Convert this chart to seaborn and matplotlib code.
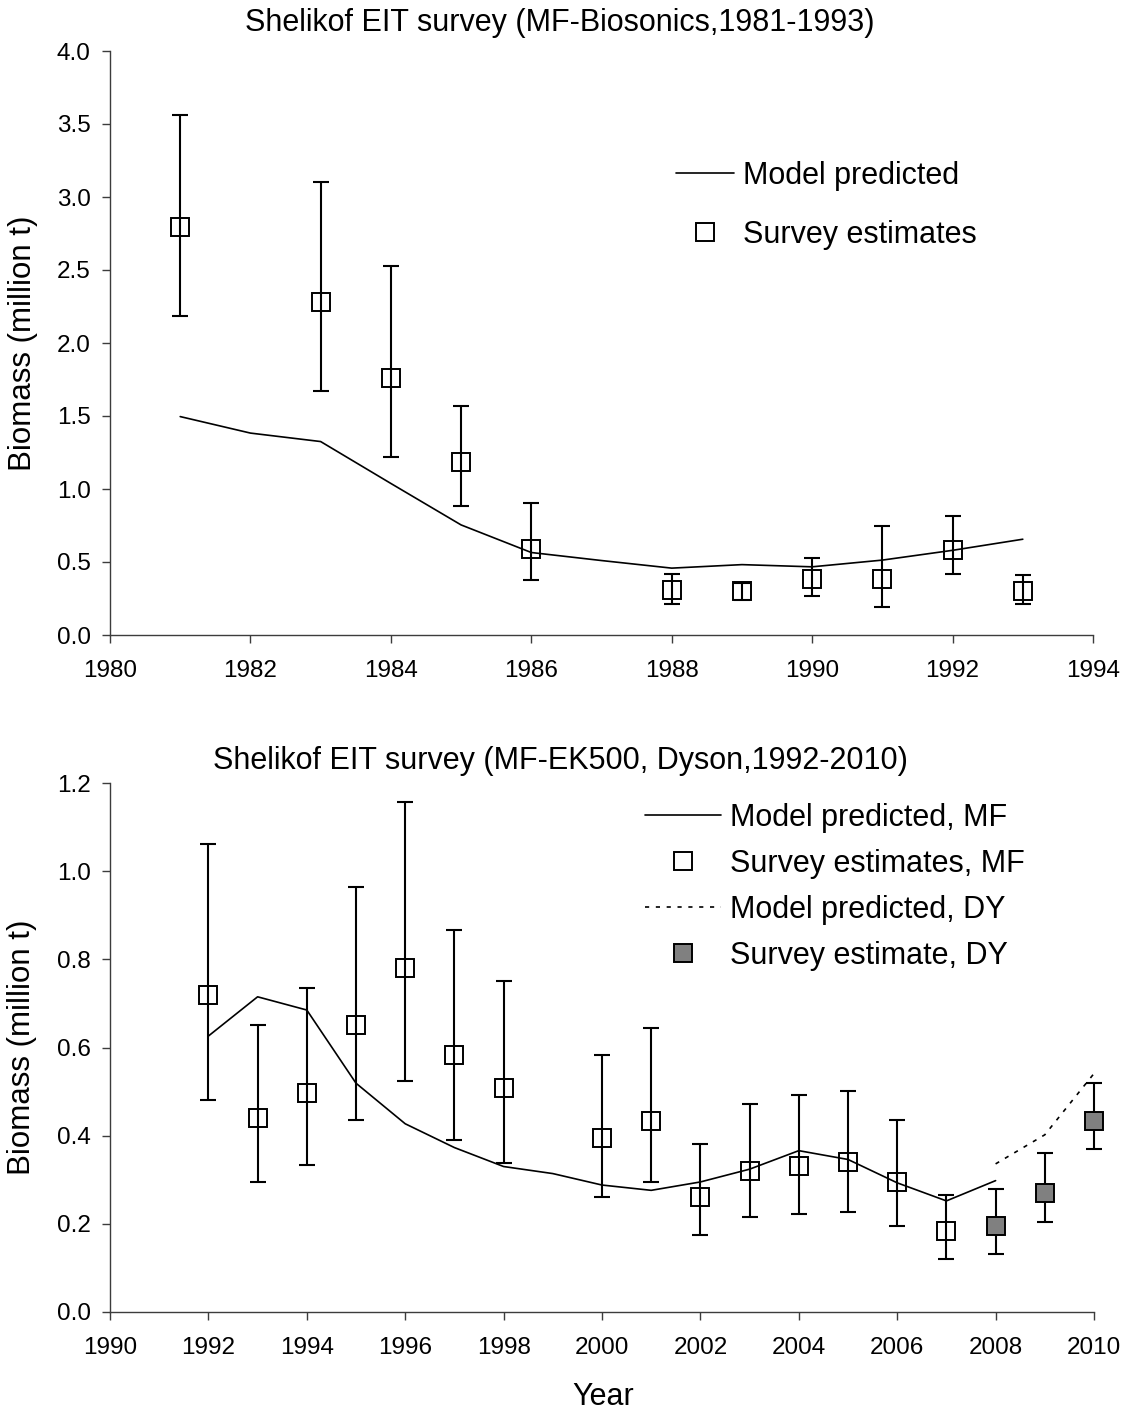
import matplotlib
matplotlib.use("Agg")
import matplotlib.pyplot as plt
from matplotlib.lines import Line2D
import seaborn as sns
import pandas as pd

# ---- Shelikof EIT survey, MF-Biosonics period (1981-1993) ----
bio_model_years = [1981, 1982, 1983, 1984, 1985, 1986, 1987, 1988, 1989, 1990, 1991, 1992, 1993]
bio_model_biomass = [1.496, 1.383, 1.325, 1.038, 0.754, 0.565, 0.510, 0.458, 0.482, 0.467, 0.513, 0.580, 0.656]

bio_survey_years = [1981, 1983, 1984, 1985, 1986, 1988, 1989, 1990, 1991, 1992, 1993]
bio_survey_biomass = [2.794, 2.284, 1.762, 1.185, 0.592, 0.311, 0.299, 0.382, 0.382, 0.580, 0.299]
bio_survey_lower = [2.183, 1.673, 1.221, 0.885, 0.376, 0.214, 0.240, 0.266, 0.189, 0.418, 0.214]
bio_survey_upper = [3.563, 3.105, 2.528, 1.566, 0.901, 0.421, 0.358, 0.525, 0.748, 0.815, 0.412]

# ---- Shelikof EIT survey, MF-EK500 and Dyson period (1992-2010) ----
mf_model_years = list(range(1992, 2009))
mf_model_biomass = [0.626, 0.715, 0.685, 0.519, 0.427, 0.373, 0.330, 0.314, 0.288,
                    0.276, 0.295, 0.324, 0.366, 0.346, 0.293, 0.252, 0.298]

mf_survey_years = [1992, 1993, 1994, 1995, 1996, 1997, 1998, 2000, 2001, 2002, 2003,
                   2004, 2005, 2006, 2007]
mf_survey_biomass = [0.718, 0.439, 0.496, 0.652, 0.780, 0.584, 0.509, 0.394, 0.434,
                     0.260, 0.319, 0.332, 0.340, 0.296, 0.184]
mf_survey_lower = [0.480, 0.295, 0.334, 0.435, 0.525, 0.391, 0.338, 0.262, 0.295,
                   0.174, 0.215, 0.222, 0.227, 0.196, 0.120]
mf_survey_upper = [1.062, 0.650, 0.734, 0.964, 1.156, 0.867, 0.750, 0.582, 0.645,
                   0.382, 0.471, 0.493, 0.502, 0.435, 0.266]

dy_model_years = [2008, 2009, 2010]
dy_model_biomass = [0.336, 0.402, 0.541]

dy_survey_years = [2008, 2009, 2010]
dy_survey_biomass = [0.194, 0.269, 0.433]
dy_survey_lower = [0.131, 0.205, 0.370]
dy_survey_upper = [0.280, 0.360, 0.520]

TITLE_TOP = "Shelikof EIT survey (MF-Biosonics,1981-1993)"
TITLE_BOTTOM = "Shelikof EIT survey (MF-EK500, Dyson,1992-2010)"
YLABEL = "Biomass (million t)"
XLABEL = "Year"

sns.set_theme(style="ticks")
plt.rcParams["font.family"] = ["Liberation Sans", "DejaVu Sans"]
plt.rcParams["text.color"] = "black"
plt.rcParams["axes.labelcolor"] = "black"

SPINE = "#3c3c3c"
GREY = "#808080"
MS = 13          # square marker size (pt)
EB_LW = 1.5
LINE_LW = 1.2
CAP = 5.5
BIG = 22

fig = plt.figure(figsize=(11.27, 14.14), dpi=100)
W, H = 1127, 1414


def px_axes(left, top, right, bottom):
    return fig.add_axes([left / W, 1 - bottom / H, (right - left) / W, (bottom - top) / H])


ax1 = px_axes(110, 51, 1093, 635)
ax2 = px_axes(110, 783, 1094, 1312)


def style_axes(ax):
    for side in ("top", "right"):
        ax.spines[side].set_visible(False)
    for side in ("left", "bottom"):
        ax.spines[side].set_color(SPINE)
        ax.spines[side].set_linewidth(1.0)
    ax.tick_params(axis="both", direction="out", length=5.8, width=1.0, color=SPINE,
                   labelsize=17.5, labelcolor="black")
    ax.tick_params(axis="x", pad=12)
    ax.tick_params(axis="y", pad=8)
    ax.grid(False)
    ax.set_facecolor("white")


def survey_errorbars(ax, years, est, lo, hi, face):
    yerr = [[e - l for e, l in zip(est, lo)], [h - e for e, h in zip(est, hi)]]
    ax.errorbar(years, est, yerr=yerr, fmt="none", ecolor="black",
                elinewidth=EB_LW, capsize=CAP, capthick=EB_LW, zorder=3, clip_on=False)
    ax.plot(years, est, linestyle="none", marker="s", markersize=MS,
            markerfacecolor=face, markeredgecolor="black", markeredgewidth=1.4,
            zorder=4, clip_on=False)


# ---------------- top panel ----------------
style_axes(ax1)
df_bio = pd.DataFrame({"year": bio_model_years, "biomass": bio_model_biomass})
sns.lineplot(data=df_bio, x="year", y="biomass", ax=ax1, color="black",
             linewidth=LINE_LW, estimator=None, zorder=2)
survey_errorbars(ax1, bio_survey_years, bio_survey_biomass, bio_survey_lower,
                 bio_survey_upper, "none")
ax1.set_xlim(1980, 1994)
ax1.set_ylim(0, 4.0)
ax1.set_xticks(range(1980, 1995, 2))
ax1.set_yticks([i * 0.5 for i in range(9)])
ax1.set_yticklabels([f"{i * 0.5:.1f}" for i in range(9)])
ax1.set_xlabel("")
ax1.set_ylabel(YLABEL, fontsize=22.5)
ax1.yaxis.set_label_coords(-0.073, 0.5)

h_line = Line2D([], [], color="black", linewidth=LINE_LW)
h_open = Line2D([], [], linestyle="none", marker="s", markersize=MS,
                markerfacecolor="none", markeredgecolor="black", markeredgewidth=1.4)
ax1.legend([h_line, h_open], ["Model predicted", "Survey estimates"],
           loc="upper left", bbox_to_anchor=(676 / W, 1 - 161 / H),
           bbox_transform=fig.transFigure, frameon=False, fontsize=BIG,
           handlelength=1.9, handletextpad=0.28, labelspacing=0.95,
           borderpad=0, borderaxespad=0)

# ---------------- bottom panel ----------------
style_axes(ax2)
df_mf = pd.DataFrame({"year": mf_model_years, "biomass": mf_model_biomass})
df_dy = pd.DataFrame({"year": dy_model_years, "biomass": dy_model_biomass})
sns.lineplot(data=df_mf, x="year", y="biomass", ax=ax2, color="black",
             linewidth=LINE_LW, estimator=None, zorder=2)
sns.lineplot(data=df_dy, x="year", y="biomass", ax=ax2, color="black",
             linewidth=LINE_LW, estimator=None, zorder=2, clip_on=False)
ax2.lines[-1].set_linestyle((0, (2.5, 4)))
survey_errorbars(ax2, mf_survey_years, mf_survey_biomass, mf_survey_lower,
                 mf_survey_upper, "none")
survey_errorbars(ax2, dy_survey_years, dy_survey_biomass, dy_survey_lower,
                 dy_survey_upper, GREY)
ax2.set_xlim(1990, 2010)
ax2.set_ylim(0, 1.2)
ax2.set_xticks(range(1990, 2011, 2))
ax2.set_yticks([i * 0.2 for i in range(7)])
ax2.set_yticklabels([f"{i * 0.2:.1f}" for i in range(7)])
ax2.set_ylabel(YLABEL, fontsize=22.5)
ax2.yaxis.set_label_coords(-0.074, 0.5)
ax2.set_xlabel(XLABEL, fontsize=BIG)
ax2.xaxis.set_label_coords(0.501, -0.132)

h_dot = Line2D([], [], color="black", linewidth=LINE_LW, linestyle=(0, (2.5, 4)))
h_fill = Line2D([], [], linestyle="none", marker="s", markersize=MS,
                markerfacecolor=GREY, markeredgecolor="black", markeredgewidth=1.4)
ax2.legend([h_line, h_open, h_dot, h_fill],
           ["Model predicted, MF", "Survey estimates, MF",
            "Model predicted, DY", "Survey estimate, DY"],
           loc="upper left", bbox_to_anchor=(645 / W, 1 - 803 / H),
           bbox_transform=fig.transFigure, frameon=False, fontsize=BIG,
           handlelength=2.5, handletextpad=0.28, labelspacing=0.52,
           borderpad=0, borderaxespad=0)

# panel titles
fig.text(560 / W, 1 - 23 / H, TITLE_TOP, ha="center", va="center", fontsize=BIG)
fig.text(560 / W, 1 - 761 / H, TITLE_BOTTOM, ha="center", va="center", fontsize=BIG)

fig.savefig("out.png", dpi=100, facecolor="white")
